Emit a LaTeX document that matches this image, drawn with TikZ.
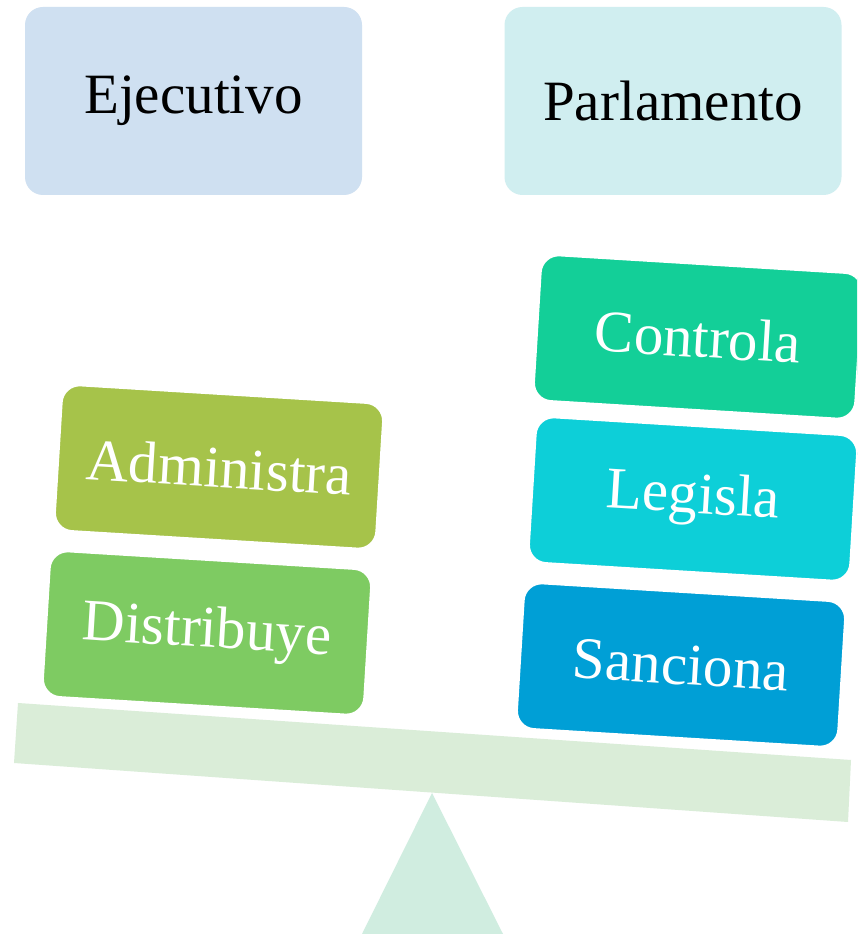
\documentclass[tikz,border=0pt]{standalone}
\usepackage{fontspec}
\setmainfont{Liberation Serif}
\definecolor{ejecol}{HTML}{CFE0F1}
\definecolor{parcol}{HTML}{D0EEF0}
\definecolor{concol}{HTML}{13CF98}
\definecolor{legcol}{HTML}{0DCFD8}
\definecolor{sancol}{HTML}{009FD6}
\definecolor{admcol}{HTML}{A6C34A}
\definecolor{discol}{HTML}{7ECB62}
\definecolor{beamcol}{HTML}{DAEDD8}
\definecolor{basecol}{HTML}{D0EDE0}
\tikzset{
  headbox/.style={rounded corners=18pt,minimum width=337pt,minimum height=188pt,
    font=\fontsize{57}{62}\selectfont,text=black},
  taskbox/.style={rounded corners=18pt,minimum width=322pt,minimum height=146pt,
    draw=white,line width=2pt,font=\fontsize{59}{64}\selectfont,text=white,rotate=-3.5}
}
\begin{document}
\begin{tikzpicture}[x=1pt,y=1pt]
\useasboundingbox (0,0) rectangle (857,934);
\clip (0,0) rectangle (857,934);
\fill[white] (0,0) rectangle (857,934);
%\draw[step=50,gray,very thin] (0,0) grid (857,934); %background grid
% top boxes
\node[headbox,fill=ejecol] (ejecutivo) at (193.5,833) {Ejecutivo};
\node[headbox,fill=parcol] (parlamento) at (673,833) {Parlamento};
% beam and base
\fill[beamcol] (18,231) -- (851,174) -- (848,112) -- (14,171) -- cycle;
\fill[basecol] (432,141) -- (362,0) -- (503,0) -- cycle;
% left side
\node[taskbox,fill=admcol] (administra) at (219,467) {Administra};
\node[taskbox,fill=discol] (distribuye) at (207,301) {Distribuye};
% right side
\node[taskbox,fill=concol] (controla) at (698,597) {Controla};
\node[taskbox,fill=legcol] (legisla) at (693,435) {Legisla};
\node[taskbox,fill=sancol] (sanciona) at (681,269) {Sanciona};
\end{tikzpicture}
\end{document}
